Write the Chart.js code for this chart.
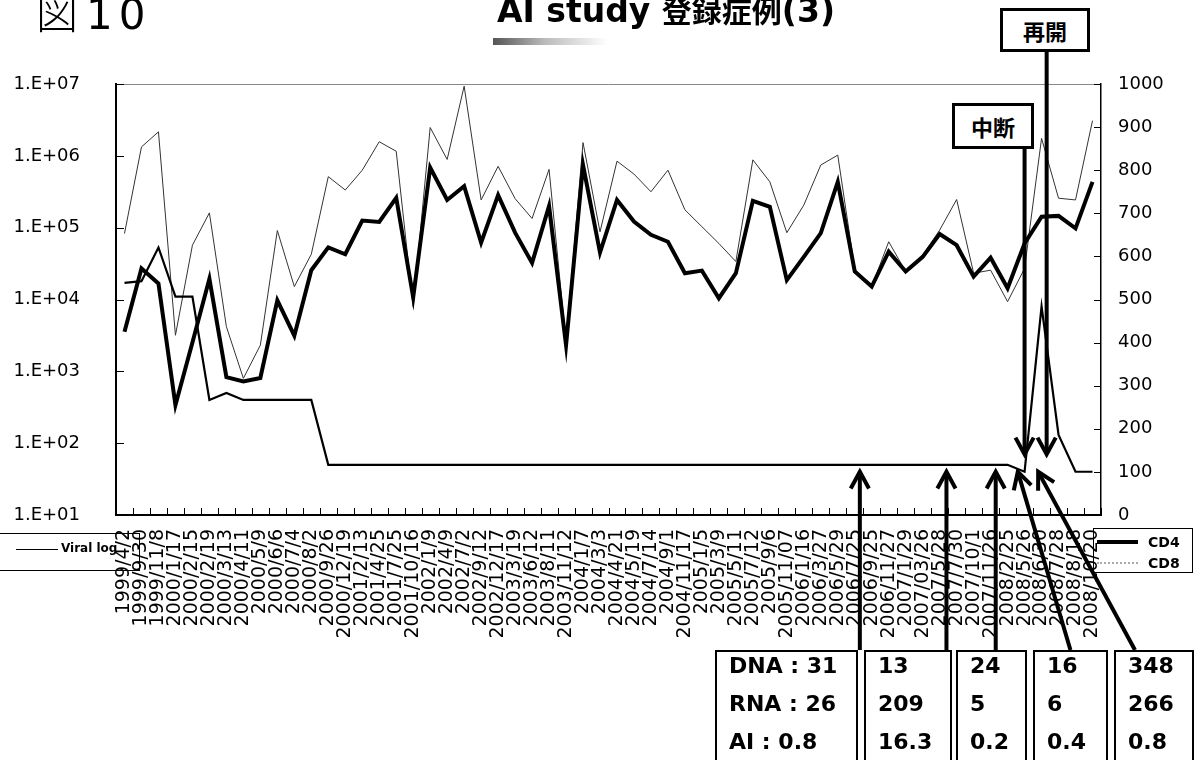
<!DOCTYPE html>
<html lang="ja">
<head>
<meta charset="utf-8">
<title>図10 AI study 登録症例(3)</title>
<script src="https://cdn.jsdelivr.net/npm/chart.js@4.4.1/dist/chart.umd.min.js"></script>
<style>
  html, body { margin: 0; padding: 0; background: #fff; }
  #wrap { position: relative; width: 1194px; height: 760px; overflow: hidden; font-family: "DejaVu Sans", sans-serif; }
  #c { position: absolute; left: 0; top: 0; }
  .abs { position: absolute; white-space: nowrap; }
  .note { position: absolute; border: 3px solid #000; background: #fff; box-sizing: border-box;
          font: bold 22px "Noto Sans CJK JP", sans-serif; text-align: center; }
  .vals { position: absolute; top: 650px; height: 140px; border: 2px solid #000; box-sizing: border-box;
          background: #fff; font: bold 22px "DejaVu Sans", sans-serif; line-height: 38px; padding-left: 12px; }
  .vals div { position: relative; top: -5px; }
  .leg { position: absolute; border: 1px solid #000; box-sizing: border-box; }
</style>
</head>
<body>
<div id="wrap">
  <canvas id="c" width="1194" height="760"></canvas>

  <!-- title -->
  <div class="abs" style="left:36px; top:-13px; font: 300 42px 'Noto Sans CJK JP'; line-height:48px;">図<span style="font-family:'DejaVu Sans'; font-weight:normal; letter-spacing:6px; margin-left:8px;">10</span></div>
  <div class="abs" style="left:493px; top:38px; width:115px; height:7px; background:linear-gradient(to right,#555,#bbb 45%,rgba(255,255,255,0));"></div>
  <div class="abs" style="left:497px; top:-13px; line-height:40px;"><span style="font:bold 33px 'DejaVu Sans';">AI study </span><span style="font:bold 30px 'Noto Sans CJK JP';">登録症例</span><span style="font:bold 33px 'DejaVu Sans';">(3)</span></div>

  <!-- legends -->
  <div class="leg" style="left:-1px; top:533px; width:141px; height:38px;"></div>
  <div class="abs" style="left:16px; top:549px; width:42px; border-top:1px solid #000;"></div>
  <div class="abs" style="left:61px; top:541px; font: bold 12px 'DejaVu Sans';">Viral log</div>

  <div class="leg" style="left:1093px; top:528px; width:100px; height:45px;"></div>
  <div class="abs" style="left:1097px; top:540px; width:41px; border-top:4px solid #000;"></div>
  <div class="abs" style="left:1148px; top:534px; font: bold 14px 'DejaVu Sans';">CD4</div>
  <div class="abs" style="left:1097px; top:562px; width:41px; border-top:2px dotted #aaa;"></div>
  <div class="abs" style="left:1148px; top:555px; font: bold 14px 'DejaVu Sans';">CD8</div>

  <!-- interruption / restart -->
  <div class="note" style="left:952px; top:103px; width:82px; height:46px; line-height:40px;">中断</div>
  <div class="note" style="left:1000px; top:8px; width:90px; height:44px; line-height:38px;">再開</div>

  <!-- DNA / RNA / AI boxes -->
  <div class="vals" style="left:715px; width:143px;"><div>DNA : 31<br>RNA : 26<br>AI : 0.8</div></div>
  <div class="vals" style="left:864px; width:88px;"><div>13<br>209<br>16.3</div></div>
  <div class="vals" style="left:956px; width:71px;"><div>24<br>5<br>0.2</div></div>
  <div class="vals" style="left:1033px; width:75px;"><div>16<br>6<br>0.4</div></div>
  <div class="vals" style="left:1114px; width:80px;"><div>348<br>266<br>0.8</div></div>
</div>

<script>
// --- data ---
const dates = [
  '1999/4/2', '1999/9/30', '1999/11/8', '2000/1/17', '2000/2/15', '2000/2/19', '2000/3/13', '2000/4/11',
  '2000/5/9', '2000/6/6', '2000/7/4', '2000/8/2', '2000/9/26', '2000/12/19', '2001/2/13', '2001/4/25',
  '2001/7/25', '2001/10/16', '2002/1/9', '2002/4/9', '2002/7/2', '2002/9/12', '2002/12/17', '2003/3/19',
  '2003/6/12', '2003/8/11', '2003/11/12', '2004/1/7', '2004/3/3', '2004/4/21', '2004/5/19', '2004/7/14',
  '2004/9/1', '2004/11/17', '2005/1/5', '2005/3/9', '2005/5/11', '2005/7/12', '2005/9/6', '2005/11/07',
  '2006/1/16', '2006/3/27', '2006/5/29', '2006/7/25', '2006/9/25', '2006/11/27', '2007/1/29', '2007/03/26',
  '2007/5/28', '2007/7/30', '2007/10/1', '2007/11/26', '2008/2/25', '2008/5/26', '2008/6/30', '2008/7/28',
  '2008/8/18', '2008/10/20'
];

// copies/mL, left log axis
const viralLoad = [
  17000, 18000, 53000, 11000, 11000, 400, 500, 400, 400, 400, 400, 400,
  50, 50, 50, 50, 50, 50, 50, 50, 50, 50, 50, 50, 50, 50, 50, 50, 50, 50, 50, 50,
  50, 50, 50, 50, 50, 50, 50, 50, 50, 50, 50, 50, 50, 50, 50, 50, 50, 50, 50, 50, 50,
  40, 8000, 130, 40, 40
];

// cells/uL, right axis
const cd4 = [
  425, 572, 537, 255, 400, 548, 320, 310, 318, 498, 416, 568, 621, 605, 683, 680,
  736, 505, 806, 731, 763, 632, 742, 655, 585, 717, 394, 812, 609, 731, 681, 650,
  634, 561, 567, 503, 561, 729, 715, 545, 599, 654, 773, 565, 530, 611, 565, 599,
  652, 626, 553, 597, 526, 630, 692, 694, 665, 773
];
const cd8 = [
  653, 854, 889, 417, 626, 701, 437, 317, 394, 660, 530, 605, 785, 754, 800, 866,
  844, 483, 899, 825, 995, 731, 809, 734, 688, 802, 400, 864, 657, 821, 791, 750,
  800, 708, 669, 630, 588, 824, 773, 655, 719, 812, 835, 570, 530, 634, 565, 603,
  661, 732, 561, 568, 495, 572, 874, 735, 731, 915
];

const viralTicks = [1e1, 1e2, 1e3, 1e4, 1e5, 1e6, 1e7];
const viralTickLabels = ['1.E+01', '1.E+02', '1.E+03', '1.E+04', '1.E+05', '1.E+06', '1.E+07'];
const cellTicks = [0, 100, 200, 300, 400, 500, 600, 700, 800, 900, 1000];

// annotation arrows: tail/tip as [category position, y]; tip y is a viral value
const pointers = [
  { tail: [43.3, 650], tip: [43.3, 40] },
  { tail: [48.4, 650], tip: [48.4, 40] },
  { tail: [51.3, 650], tip: [51.3, 40] },
  { tail: [55.7, 650], tip: [52.6, 40] },
  { tail: [59.5, 650], tip: [53.8, 40] },
  { tail: [53.0, 149], tip: [53.0, 70] },  // 中断
  { tail: [54.3, 52], tip: [54.3, 70] }    // 再開
];

Chart.defaults.font.family = "'DejaVu Sans', sans-serif";
Chart.defaults.color = '#000';

function drawArrow(ctx, x1, y1, x2, y2) {
  const ang = Math.atan2(y2 - y1, x2 - x1), len = 19, spread = 0.5;
  ctx.beginPath();
  ctx.moveTo(x1, y1);
  ctx.lineTo(x2 - 3 * Math.cos(ang), y2 - 3 * Math.sin(ang));
  ctx.stroke();
  ctx.beginPath();
  ctx.moveTo(x2 - len * Math.cos(ang - spread), y2 - len * Math.sin(ang - spread));
  ctx.lineTo(x2, y2);
  ctx.lineTo(x2 - len * Math.cos(ang + spread), y2 - len * Math.sin(ang + spread));
  ctx.stroke();
}

// frame, inside ticks and the arrows
const deco = {
  id: 'deco',
  afterDraw(chart) {
    const { ctx, chartArea: a, scales } = chart;
    const xs = scales.x, vs = scales.viral, cs = scales.cells;
    ctx.save();
    ctx.strokeStyle = '#888';
    ctx.lineWidth = 1;
    ctx.beginPath();
    ctx.moveTo(a.left, a.top + 0.5);
    ctx.lineTo(a.right, a.top + 0.5);
    ctx.stroke();

    ctx.strokeStyle = '#000';
    ctx.beginPath();
    viralTicks.forEach(t => {
      const y = Math.round(vs.getPixelForValue(t)) + 0.5;
      ctx.moveTo(a.left, y); ctx.lineTo(a.left + 8, y);
    });
    cellTicks.forEach(t => {
      const y = Math.round(cs.getPixelForValue(t)) + 0.5;
      ctx.moveTo(a.right - 7, y); ctx.lineTo(a.right, y);
    });
    for (let i = 0; i <= dates.length; i++) {
      const x = Math.round(xs.getPixelForValue(i - 0.5)) + 0.5;
      ctx.moveTo(x, a.bottom); ctx.lineTo(x, a.bottom - 7);
    }
    ctx.stroke();

    ctx.lineWidth = 4;
    ctx.lineJoin = 'miter';
    pointers.forEach(p => {
      drawArrow(ctx,
        xs.getPixelForValue(p.tail[0]), p.tail[1],
        xs.getPixelForValue(p.tip[0]), vs.getPixelForValue(p.tip[1]));
    });
    ctx.restore();
  }
};

new Chart(document.getElementById('c'), {
  type: 'line',
  data: {
    labels: dates,
    datasets: [
      { label: 'CD4', data: cd4, yAxisID: 'cells', borderColor: '#000', borderWidth: 4, order: 0 },
      { label: 'Viral log', data: viralLoad, yAxisID: 'viral', borderColor: '#000', borderWidth: 2.2, order: 1 },
      { label: 'CD8', data: cd8, yAxisID: 'cells', borderColor: '#333', borderWidth: 1, order: 2 }
    ]
  },
  options: {
    responsive: false,
    animation: false,
    devicePixelRatio: 1,
    layout: { padding: { top: 84, left: 0, right: 0, bottom: 0 } },
    elements: {
      point: { radius: 0 },
      line: { tension: 0, borderJoinStyle: 'miter', fill: false }
    },
    plugins: { legend: { display: false }, tooltip: { enabled: false } },
    scales: {
      x: {
        type: 'category',
        offset: true,
        grid: { drawOnChartArea: false, drawTicks: false, color: 'rgba(0,0,0,0)' },
        border: { color: '#000', width: 2 },
        ticks: { autoSkip: false, maxRotation: 90, minRotation: 90, padding: 14, font: { size: 19 } },
        afterFit(s) { s.height = 245; }
      },
      viral: {
        type: 'logarithmic',
        position: 'left',
        min: 10,
        max: 1e7,
        grid: { drawOnChartArea: false, drawTicks: false, color: 'rgba(0,0,0,0)' },
        border: { color: '#000', width: 2 },
        ticks: {
          padding: 36,
          font: { size: 18 },
          callback: v => {
            const i = viralTicks.indexOf(v);
            return i < 0 ? '' : viralTickLabels[i];
          }
        },
        afterBuildTicks(s) { s.ticks = viralTicks.map(v => ({ value: v })); },
        afterFit(s) { s.width = 116; }
      },
      cells: {
        type: 'linear',
        position: 'right',
        min: 0,
        max: 1000,
        grid: { drawOnChartArea: false, drawTicks: false, color: 'rgba(0,0,0,0)' },
        border: { color: '#000', width: 1.5 },
        ticks: { stepSize: 100, padding: 17, font: { size: 18 }, callback: v => String(v) },
        afterBuildTicks(s) { s.ticks = cellTicks.map(v => ({ value: v })); },
        afterFit(s) { s.width = 93; }
      }
    }
  },
  plugins: [deco]
});
</script>
</body>
</html>
